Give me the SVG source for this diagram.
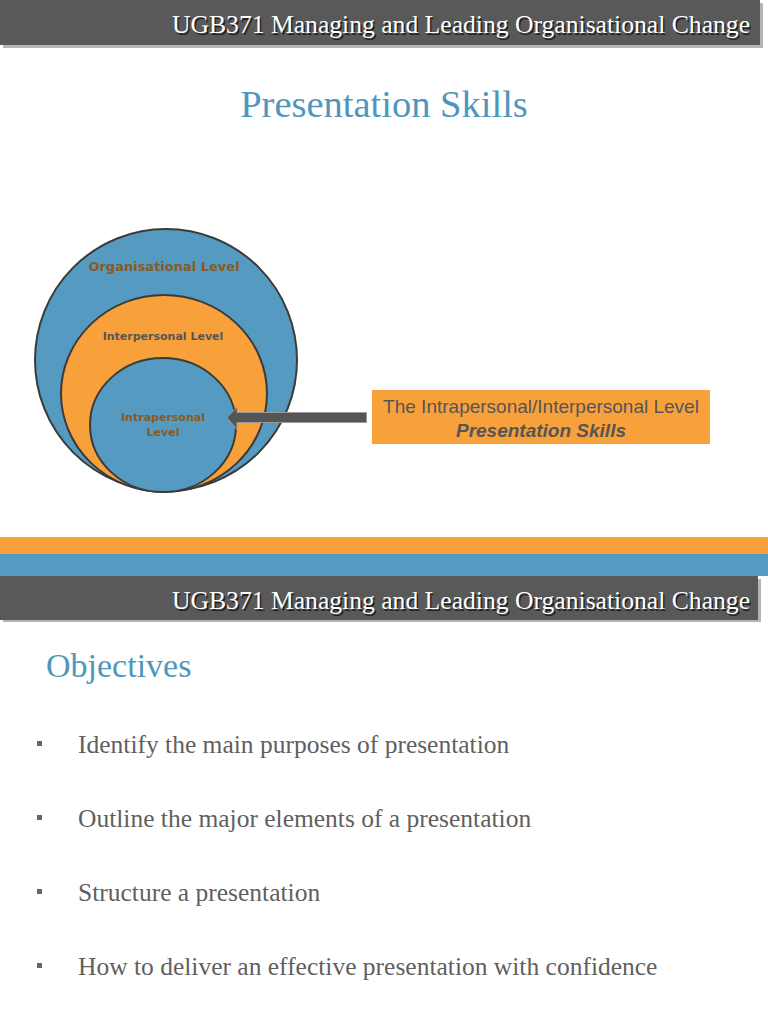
<svg xmlns="http://www.w3.org/2000/svg" width="768" height="1024" viewBox="0 0 768 1024">
<defs>
<style>
.hdr{fill:#595959}
.hshadow{fill:#b5b5b5}
.htxt{font-family:"Liberation Serif",serif;font-size:26px;fill:#ffffff}
.htxts{font-family:"Liberation Serif",serif;font-size:26px;fill:#222222}
.blue{fill:#4f96bd;font-family:"Liberation Serif",serif}
.circB{fill:#559bc1;stroke:#3b3b3b;stroke-width:2}
.circO{fill:#f8a13b;stroke:#3b3b3b;stroke-width:2}
.lblB{font-family:"DejaVu Sans",sans-serif;font-weight:bold;fill:#8a5a22;text-anchor:middle}
.lblG{font-family:"DejaVu Sans",sans-serif;font-weight:bold;fill:#555555;text-anchor:middle}
.box{fill:#f8a13b}
.boxt{font-family:"Liberation Sans",sans-serif;font-size:19px;fill:#555555;text-anchor:middle}
.bul{fill:#666666}
.bt{font-family:"Liberation Serif",serif;font-size:25.5px;fill:#5f5f5f}
</style>
</defs>

<!-- top header -->
<g id="header1">
<rect class="hshadow" x="3" y="3" width="760" height="45"/>
<rect class="hdr" x="0" y="0" width="760" height="45"/>
<text class="htxts" x="751.5" y="34.5" text-anchor="end" textLength="578" lengthAdjust="spacingAndGlyphs">UGB371 Managing and Leading Organisational Change</text>
<text class="htxt" x="750" y="33" text-anchor="end" textLength="578" lengthAdjust="spacingAndGlyphs">UGB371 Managing and Leading Organisational Change</text>
</g>

<text id="title" class="blue" x="384" y="117" font-size="38.5" text-anchor="middle">Presentation Skills</text>

<!-- circles -->
<g id="organisational">
<circle class="circB" cx="166" cy="360" r="131"/>
<text class="lblB" x="164" y="271" font-size="13">Organisational Level</text>
</g>
<g id="interpersonal">
<ellipse class="circO" cx="164" cy="393.5" rx="103" ry="98.5"/>
<text class="lblG" x="163" y="340" font-size="11">Interpersonal Level</text>
</g>
<g id="intrapersonal">
<ellipse class="circB" cx="163" cy="425" rx="73" ry="67"/>
<text class="lblB" x="163" y="421" font-size="11">Intrapersonal</text>
<text class="lblB" x="163" y="436" font-size="11">Level</text>
</g>

<!-- connector -->
<g id="connectors">
<path d="M366.5,412.5 L237,412.5 L237,407 L227,417.5 L237,429.5 L237,422.5 L366.5,422.5 Z" fill="#555555" stroke="#9a9a9a" stroke-width="1"/>
</g>

<g id="callout">
<rect class="box" x="372" y="390" width="338" height="54"/>
<text class="boxt" x="541" y="413">The Intrapersonal/Interpersonal Level</text>
<text class="boxt" x="541" y="437" font-weight="bold" font-style="italic">Presentation Skills</text>
</g>

<!-- stripes -->
<rect x="0" y="537" width="768" height="17" fill="#f8a13b"/>
<rect x="0" y="554" width="768" height="22" fill="#559bc1"/>

<g id="header2">
<rect class="hshadow" x="3" y="579" width="758" height="43"/>
<rect class="hdr" x="0" y="576" width="758" height="44"/>
<text class="htxts" x="751.5" y="610.5" text-anchor="end" textLength="578" lengthAdjust="spacingAndGlyphs">UGB371 Managing and Leading Organisational Change</text>
<text class="htxt" x="750" y="609" text-anchor="end" textLength="578" lengthAdjust="spacingAndGlyphs">UGB371 Managing and Leading Organisational Change</text>
</g>

<text id="objectives" class="blue" x="46" y="677" font-size="34">Objectives</text>

<g id="bullets">
<rect class="bul" x="37" y="741" width="5" height="5"/>
<text class="bt" x="78" y="753">Identify the main purposes of presentation</text>
<rect class="bul" x="37" y="815" width="5" height="5"/>
<text class="bt" x="78" y="827">Outline the major elements of a presentation</text>
<rect class="bul" x="37" y="889" width="5" height="5"/>
<text class="bt" x="78" y="901">Structure a presentation</text>
<rect class="bul" x="37" y="963" width="5" height="5"/>
<text class="bt" x="78" y="975">How to deliver an effective presentation with confidence</text>
</g>
</svg>
